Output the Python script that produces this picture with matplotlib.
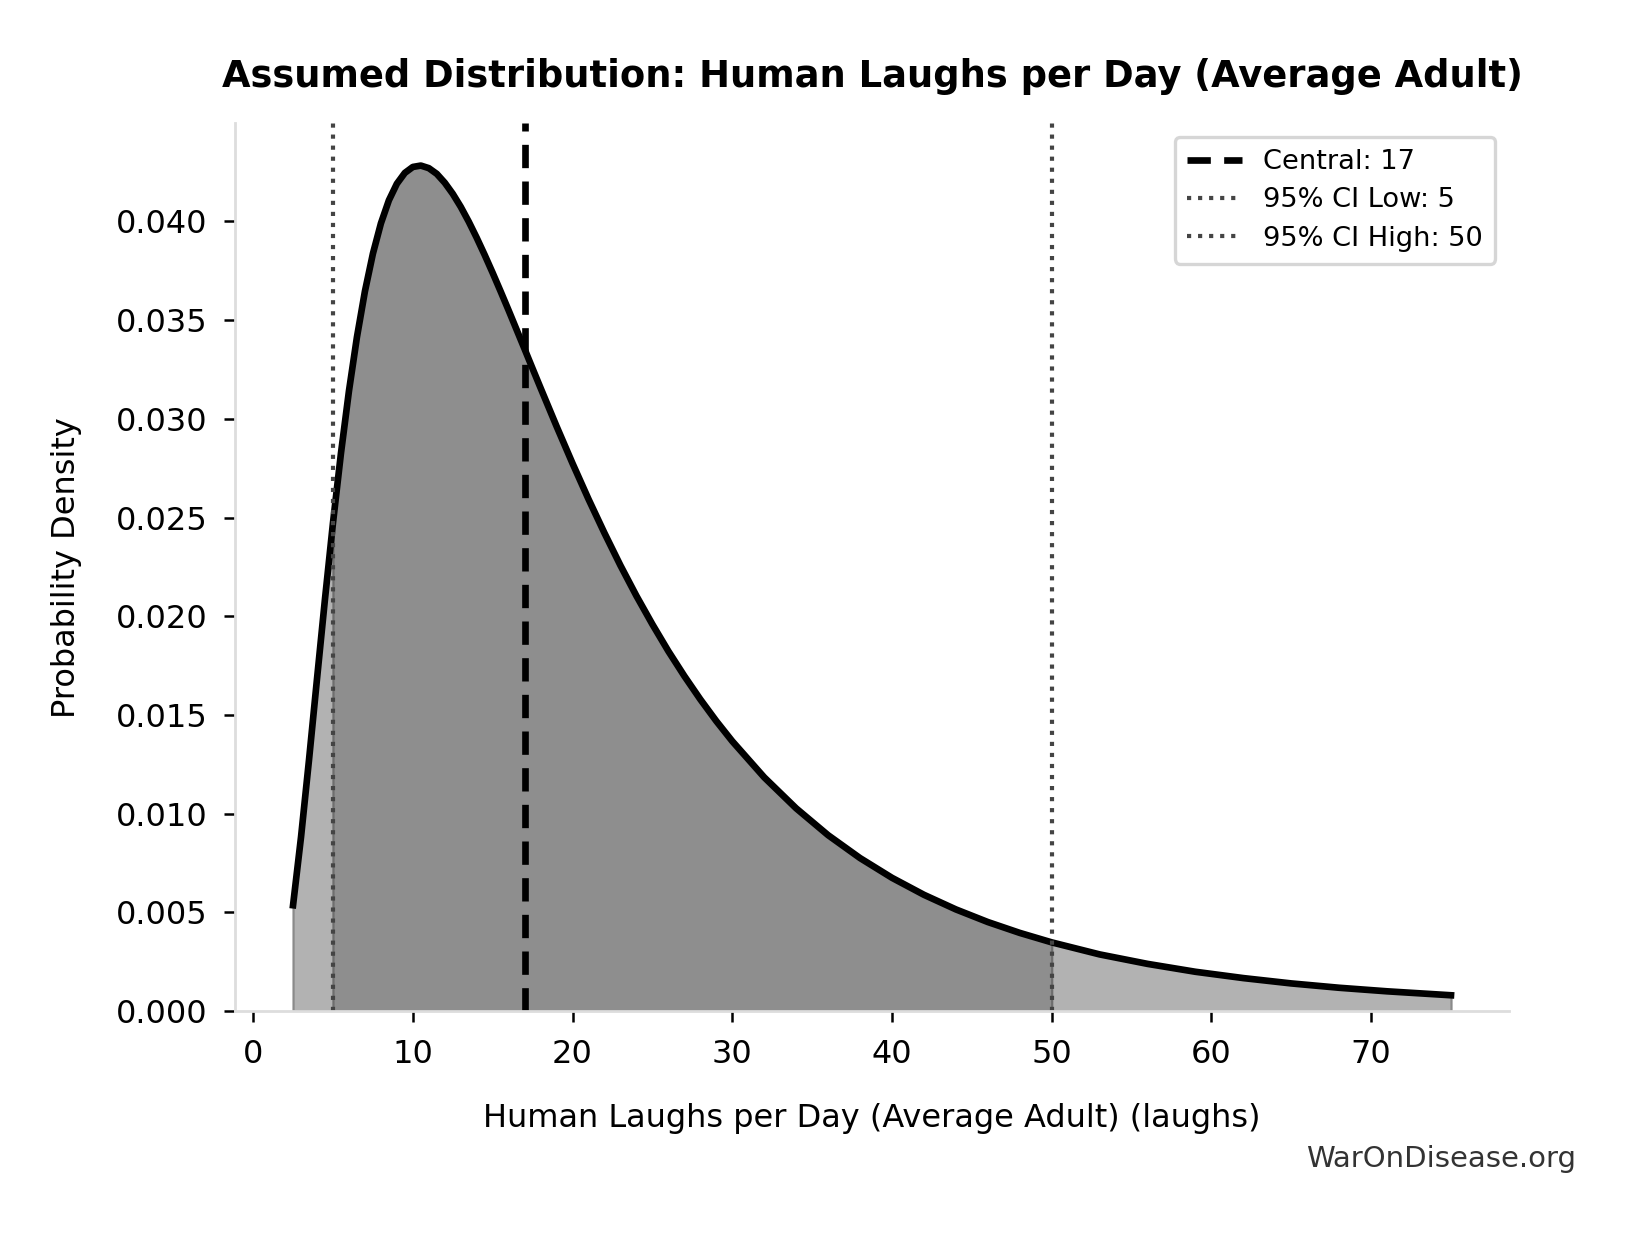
import matplotlib
matplotlib.use("Agg")
import matplotlib.pyplot as plt

# density curve (x in laughs/day, y = probability density)
x_vals = [2.5, 3, 3.5, 4, 4.5, 5, 5.5, 6, 6.5, 7, 7.5, 8, 8.5, 9, 9.5, 10,
          10.5, 11, 11.5, 12, 12.5, 13, 13.5, 14, 14.5, 15, 15.5, 16, 16.5,
          17, 17.5, 18, 19, 20, 21, 22, 23, 24, 25, 26, 27, 28, 29, 30,
          32, 34, 36, 38, 40, 42, 44, 46, 48, 50, 53, 56, 59, 62, 65, 68,
          71, 75]
density = [0.00536, 0.00882, 0.01273, 0.01683, 0.02088, 0.02473, 0.02826,
           0.03141, 0.03414, 0.03646, 0.03837, 0.03990, 0.04107, 0.04191,
           0.04246, 0.04276, 0.04283, 0.04270, 0.04241, 0.04196, 0.04140,
           0.04074, 0.03999, 0.03917, 0.03830, 0.03739, 0.03645, 0.03549,
           0.03451, 0.03353, 0.03254, 0.03156, 0.02962, 0.02774, 0.02593,
           0.02421, 0.02257, 0.02103, 0.01959, 0.01823, 0.01697, 0.01579,
           0.01469, 0.01367, 0.01184, 0.01027, 0.00891, 0.00775, 0.00675,
           0.00589, 0.00515, 0.00451, 0.00396, 0.00348, 0.00287, 0.00239,
           0.00199, 0.00167, 0.00140, 0.00118, 0.00100, 0.00080]

central = 17
ci_low = 5
ci_high = 50

title = "Assumed Distribution: Human Laughs per Day (Average Adult)"
xlabel = "Human Laughs per Day (Average Adult) (laughs)"
ylabel = "Probability Density"

fig = plt.figure(figsize=(8.165, 6.165), dpi=200)
ax = fig.add_axes([0.144, 0.18, 0.78, 0.72])

# whole area light, 95% interval darker
ax.fill_between(x_vals, density, color="#b2b2b2", edgecolor="#8a8a8a", linewidth=0.8)
inner_x = [xv for xv in x_vals if ci_low <= xv <= ci_high]
inner_y = [d for xv, d in zip(x_vals, density) if ci_low <= xv <= ci_high]
ax.fill_between(inner_x, inner_y, color="#8e8e8e", edgecolor="#6e6e6e", linewidth=0.8)

ax.plot(x_vals, density, color="black", linewidth=2.4)

ax.axvline(central, color="black", linestyle=(0, (3.5, 2)), linewidth=2.4,
           label=f"Central: {central}")
ax.axvline(ci_low, color="#444444", linestyle=":", linewidth=1.5,
           label=f"95% CI Low: {ci_low}")
ax.axvline(ci_high, color="#444444", linestyle=":", linewidth=1.5,
           label=f"95% CI High: {ci_high}")

ax.set_ylim(bottom=0)
ax.set_xticks([0, 10, 20, 30, 40, 50, 60, 70])

ax.set_title(title, fontsize=13.3, fontweight="bold", pad=13)
ax.set_xlabel(xlabel, fontsize=11.5, labelpad=12)
ax.set_ylabel(ylabel, fontsize=11.5, labelpad=12)
ax.tick_params(labelsize=11.5, length=4, width=0.9, pad=6)

for side in ["top", "right"]:
    ax.spines[side].set_visible(False)
for side in ["left", "bottom"]:
    ax.spines[side].set_color("#dddddd")
    ax.spines[side].set_linewidth(1.0)

leg = ax.legend(loc="upper right", fontsize=9.8, frameon=True, framealpha=1,
                borderpad=0.45, handlelength=2.0, labelspacing=0.45)
leg.get_frame().set_edgecolor("#d6d6d6")
leg.get_frame().set_linewidth(1.2)

fig.text(0.965, 0.06, "WarOnDisease.org", ha="right", va="center",
         fontsize=10.5, color="#333333")

fig.savefig("out.png", dpi=200)
